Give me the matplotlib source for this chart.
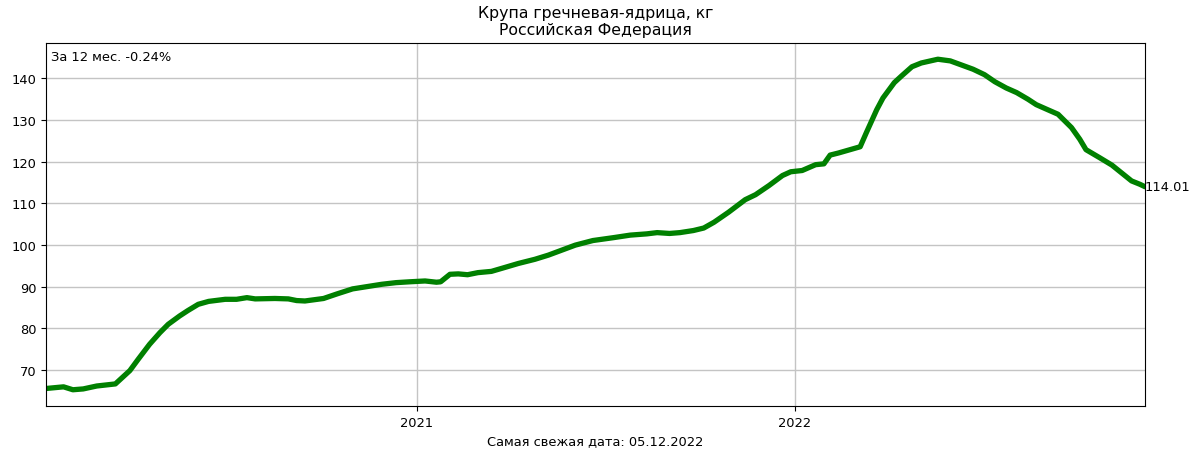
import matplotlib
matplotlib.use("Agg")
import matplotlib.pyplot as plt
import matplotlib.dates as mdates
import pandas as pd

dates = [
    "2020-01-09", "2020-01-26", "2020-02-04", "2020-02-14", "2020-02-27",
    "2020-03-16", "2020-03-30", "2020-04-07", "2020-04-18", "2020-04-28",
    "2020-05-06", "2020-05-17", "2020-05-25", "2020-06-04", "2020-06-14",
    "2020-06-30", "2020-07-11", "2020-07-21", "2020-07-29", "2020-08-17",
    "2020-08-30", "2020-09-07", "2020-09-15", "2020-09-24", "2020-10-03",
    "2020-10-16", "2020-10-31", "2020-11-28", "2020-12-12", "2020-12-25",
    "2021-01-09", "2021-01-20", "2021-01-24", "2021-02-02", "2021-02-10",
    "2021-02-19", "2021-03-01", "2021-03-14", "2021-03-25", "2021-04-09",
    "2021-04-25", "2021-05-08", "2021-05-21", "2021-06-03", "2021-06-20",
    "2021-07-10", "2021-07-26", "2021-08-11", "2021-08-21", "2021-09-02",
    "2021-09-12", "2021-09-25", "2021-10-05", "2021-10-15", "2021-10-29",
    "2021-11-14", "2021-11-24", "2021-12-07", "2021-12-20", "2021-12-28",
    "2022-01-08", "2022-01-21", "2022-01-29", "2022-02-04", "2022-02-12",
    "2022-03-05", "2022-03-11", "2022-03-21", "2022-03-27", "2022-04-07",
    "2022-04-14", "2022-04-24", "2022-05-03", "2022-05-19", "2022-05-31",
    "2022-06-11", "2022-06-22", "2022-07-03", "2022-07-13", "2022-07-24",
    "2022-08-03", "2022-08-14", "2022-08-22", "2022-09-01", "2022-09-12",
    "2022-09-25", "2022-10-03", "2022-10-09", "2022-10-22", "2022-11-03",
    "2022-11-12", "2022-11-22", "2022-11-30", "2022-12-05",
]
prices = [
    65.6, 66.0, 65.3, 65.5, 66.2,
    66.7, 69.9, 72.6, 76.2, 79.0,
    81.0, 83.0, 84.3, 85.8, 86.5,
    87.0, 87.0, 87.4, 87.1, 87.2,
    87.1, 86.7, 86.6, 86.9, 87.2,
    88.3, 89.5, 90.6, 91.0, 91.2,
    91.4, 91.1, 91.2, 93.0, 93.1,
    92.9, 93.4, 93.7, 94.5, 95.6,
    96.6, 97.6, 98.8, 100.0, 101.1,
    101.8, 102.4, 102.7, 103.0, 102.8,
    103.0, 103.5, 104.1, 105.5, 107.9,
    110.9, 112.1, 114.3, 116.7, 117.6,
    117.9, 119.3, 119.5, 121.6, 122.1,
    123.6, 127.0, 132.5, 135.3, 139.0,
    140.6, 142.8, 143.7, 144.6, 144.2,
    143.2, 142.2, 140.9, 139.2, 137.7,
    136.6, 135.0, 133.7, 132.6, 131.4,
    128.2, 125.4, 122.9, 121.0, 119.2,
    117.4, 115.4, 114.6, 114.01,
]

title_text = "Крупа гречневая-ядрица, кг\nРоссийская Федерация"
xlabel_text = "Самая свежая дата: 05.12.2022"
change_text = "За 12 мес. -0.24%"
last_label = "114.01"

plt.rcParams["font.size"] = 9.4

x = pd.to_datetime(dates)

fig = plt.figure(figsize=(12, 4.6), dpi=100)
ax = fig.add_axes([0.0383, 0.1146, 0.9159, 0.7904])
ax.plot(x, prices, color="green", linewidth=3.8, solid_capstyle="round")
ax.set_xlim(x[0], x[-1])
ax.xaxis.set_major_locator(mdates.YearLocator())
ax.xaxis.set_major_formatter(mdates.DateFormatter("%Y"))
ax.grid(True, color="#c4c4c4", linewidth=1.0)
ax.set_axisbelow(True)
ax.set_title(title_text, fontsize=11.3)
ax.set_xlabel(xlabel_text, fontsize=9.4)
ax.text(0.0045, 0.98, change_text, transform=ax.transAxes, va="top", ha="left", fontsize=9.4)
ax.text(x[-1], prices[-1], last_label, va="center", ha="left", fontsize=9.4)

fig.savefig("out.png", dpi=100)
